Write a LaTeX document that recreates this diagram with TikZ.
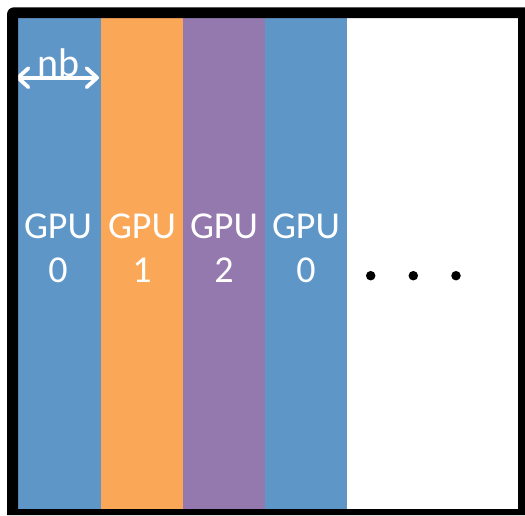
\documentclass[tikz,border=0pt]{standalone}
\usepackage{fontspec}
\setmainfont{Carlito}
\usetikzlibrary{arrows.meta,calc}
\definecolor{gpublue}{RGB}{95,150,200}
\definecolor{gpuorange}{RGB}{250,168,88}
\definecolor{gpupurple}{RGB}{148,121,175}
\tikzset{
  column/.style={draw=none, fill=#1, rectangle, inner sep=0pt, outer sep=0pt,
    minimum width=83pt, minimum height=491pt, anchor=north west},
  gpulabel/.style={text=white, align=center, inner sep=0pt,
    font=\fontsize{38pt}{44pt}\selectfont},
  nblabel/.style={text=white, inner sep=0pt, anchor=base,
    font=\fontsize{40pt}{44pt}\selectfont},
  nbarrow/.style={white, line width=3.8pt, line cap=round,
    {Straight Barb[round,length=10.5pt,width=19pt]}-{Straight Barb[round,length=10.5pt,width=19pt]}},
  dot/.style={circle, fill=black, inner sep=0pt, minimum size=9.5pt},
  frame/.style={fill=black, even odd rule}
}
\begin{document}
\begin{tikzpicture}[x=1pt,y=-1pt]
  \useasboundingbox (0,0) rectangle (525,515);
  % block-cyclic columns
  \node[column=gpublue]   (colA) at (18,18)  {};
  \node[column=gpuorange] (colB) at (101,18) {};
  \node[column=gpupurple] (colC) at (183,18) {};
  \node[column=gpublue, minimum width=82pt] (colD) at (265,18) {};
  % owner labels
  \node[gpulabel] (labA) at (58,248)  {GPU\\0};
  \node[gpulabel] (labB) at (142,248) {GPU\\1};
  \node[gpulabel] (labC) at (224,248) {GPU\\2};
  \node[gpulabel] (labD) at (306,248) {GPU\\0};
  % block width marker
  \coordinate (nbL) at (16,77.7);
  \coordinate (nbR) at (99,77.7);
  \draw[nbarrow] (nbL) -- (nbR);
  \node[nblabel] (nb) at (58.7,76.5) {nb};
  % continuation dots
  \node[dot] (d1) at (370.7,275.7) {};
  \node[dot] (d2) at (413.3,275.7) {};
  \node[dot] (d3) at (456,275.7) {};
  % thick outer frame, running off the right and bottom edges
  \fill[frame] (525,515) -- (7,515) [rounded corners=7pt] -- (7,7.3)
    [sharp corners] -- (525,7.3) -- cycle
    (18,18) rectangle (518,509);
\end{tikzpicture}
\end{document}
